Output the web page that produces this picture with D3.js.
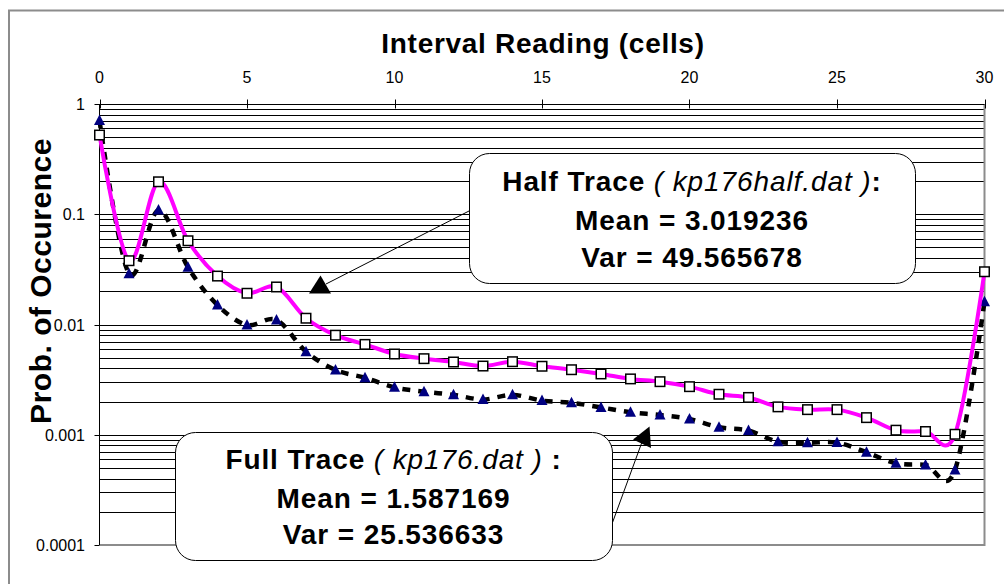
<!DOCTYPE html>
<meta charset="utf-8" />
<script src="https://d3js.org/d3.v7.min.js"></script>
<style>
  body { margin: 0; background: #fff; }
  text { font-family: "Liberation Sans", Arial, sans-serif; }
</style>
<div id="chart"></div>
<script>
  // interval reading (cells)
  const intervals = [0, 1, 2, 3, 4, 5, 6, 7, 8, 9, 10, 11, 12, 13, 14, 15, 16, 17, 18, 19, 20,
    21, 22, 23, 24, 25, 26, 27, 28, 29, 30];
  // half trace (kp176half.dat)
  const halfTrace = [0.523, 0.0379, 0.197, 0.0575, 0.0275, 0.0192, 0.0219, 0.0114, 0.0080, 0.0066,
    0.0054, 0.0049, 0.00457, 0.0042, 0.0046, 0.00418, 0.00389, 0.00356, 0.00321, 0.00303, 0.00273,
    0.00233, 0.00218, 0.00179, 0.00169, 0.00169, 0.00143, 0.00110, 0.00107, 0.00101, 0.0301];
  // full trace (kp176.dat)
  const fullTrace = [0.708, 0.0289, 0.109, 0.033, 0.0150, 0.0099, 0.0110, 0.00567, 0.00387, 0.00329,
    0.00269, 0.00246, 0.0023, 0.00209, 0.0023, 0.00204, 0.00195, 0.00177, 0.0016, 0.00151, 0.00139,
    0.00117, 0.00109, 0.000865, 0.000847, 0.00085, 0.000693, 0.000551, 0.000532, 0.000479, 0.0161];
  const xTicks = [0, 5, 10, 15, 20, 25, 30];
  const yTicks = [1, 0.1, 0.01, 0.001, 0.0001];
  const yTickLabels = ['1', '0.1', '0.01', '0.001', '0.0001'];

  const W = 1004, H = 584;
  const plot = { left: 99.5, right: 984.5, top: 104, bottom: 545 };

  const svg = d3.select('#chart').append('svg')
    .attr('width', W).attr('height', H);

  // outer chart border (cut off at right / bottom)
  svg.append('rect')
    .attr('x', 9).attr('y', 10.5).attr('width', 1100).attr('height', 700)
    .attr('fill', 'none').attr('stroke', '#8c8c8c').attr('stroke-width', 2);

  const x = d3.scaleLinear().domain([0, 30]).range([plot.left, plot.right]);
  const y = d3.scaleLog().domain([0.0001, 1]).range([plot.bottom, plot.top]);

  // horizontal gridlines: every 1..9 x 10^k
  const grid = [];
  yTicks.slice(1).forEach(d => { for (let m = 1; m <= 9; m++) grid.push(d * m); });
  svg.append('g').selectAll('line').data(grid.filter(d => d > 0.0001)).join('line')
    .attr('x1', plot.left).attr('x2', plot.right)
    .attr('y1', d => Math.round(y(d)) + 0.5).attr('y2', d => Math.round(y(d)) + 0.5)
    .attr('stroke', '#000').attr('stroke-width', 1);

  // plot area border right / bottom
  svg.append('path')
    .attr('d', `M${plot.right},${plot.top} V${plot.bottom} H${plot.left}`)
    .attr('fill', 'none').attr('stroke', '#8c8c8c').attr('stroke-width', 2);

  // top x axis
  const xAxis = svg.append('g').attr('transform', `translate(0,${Math.round(plot.top) + 0.5})`);
  xAxis.append('line').attr('x1', plot.left).attr('x2', plot.right).attr('stroke', '#000');
  xAxis.selectAll('.tk').data(xTicks).join('line')
    .attr('x1', d => Math.round(x(d)) + 0.5).attr('x2', d => Math.round(x(d)) + 0.5)
    .attr('y1', -5).attr('y2', 4).attr('stroke', '#000');
  xAxis.selectAll('text').data(xTicks).join('text')
    .attr('x', d => x(d)).attr('y', -22)
    .attr('text-anchor', 'middle').style('font-size', '16px')
    .text(d => d);

  // left y axis
  const yAxis = svg.append('g');
  yAxis.append('line')
    .attr('x1', plot.left).attr('x2', plot.left)
    .attr('y1', plot.top).attr('y2', plot.bottom).attr('stroke', '#000');
  yAxis.selectAll('.tk').data(yTicks).join('line')
    .attr('x1', plot.left - 5).attr('x2', plot.left)
    .attr('y1', d => Math.round(y(d)) + 0.5).attr('y2', d => Math.round(y(d)) + 0.5)
    .attr('stroke', '#000');
  yAxis.selectAll('text').data(yTicks).join('text')
    .attr('x', 85).attr('y', d => y(d) + 6)
    .attr('text-anchor', 'end').style('font-size', '16px')
    .text((d, i) => yTickLabels[i]);

  // axis titles
  svg.append('text')
    .attr('x', 543).attr('y', 53)
    .attr('text-anchor', 'middle')
    .style('font-size', '28px').style('font-weight', 'bold').style('letter-spacing', '0.7px')
    .text('Interval Reading (cells)');
  svg.append('text')
    .attr('transform', 'translate(51,281) rotate(-90)')
    .attr('text-anchor', 'middle')
    .style('font-size', '30px').style('font-weight', 'bold').style('letter-spacing', '0.5px')
    .text('Prob. of Occurence');

  const line = d3.line()
    .x((d, i) => x(intervals[i]))
    .y(d => y(d))
    .curve(d3.curveCardinal.tension(0));

  // full trace: dashed black line + navy triangles
  svg.append('path')
    .attr('d', line(fullTrace))
    .attr('fill', 'none').attr('stroke', '#000').attr('stroke-width', 4.5)
    .attr('stroke-dasharray', '8,8');
  svg.append('g').selectAll('path').data(fullTrace).join('path')
    .attr('transform', (d, i) => `translate(${x(intervals[i])},${y(d)})`)
    .attr('d', 'M0,-6 L5.5,4.5 L-5.5,4.5 Z')
    .attr('fill', '#000080');

  // half trace: magenta line + white squares
  svg.append('path')
    .attr('d', line(halfTrace))
    .attr('fill', 'none').attr('stroke', '#ff00ff').attr('stroke-width', 4);
  svg.append('g').selectAll('rect').data(halfTrace).join('rect')
    .attr('x', (d, i) => x(intervals[i]) - 4.75)
    .attr('y', d => y(d) - 4.75)
    .attr('width', 9.5).attr('height', 9.5)
    .attr('fill', '#fff').attr('stroke', '#000').attr('stroke-width', 1.5);

  // callouts
  const callouts = [
    { box: [469, 153, 446, 130], base: [191, 229.5, 267], name: 'Half Trace', file: ' ( kp176half.dat )', tail: ':',
      mean: 'Mean = 3.019236', vr: 'Var = 49.565678',
      lineFrom: [469, 211], lineTo: [326, 284], head: [[309, 293.5], [331, 293.5], [320.5, 275.5]] },
    { box: [175, 432, 437, 128], base: [469, 508, 544], name: 'Full Trace', file: ' ( kp176.dat )', tail: ' :',
      mean: 'Mean = 1.587169', vr: 'Var = 25.536633',
      lineFrom: [605, 543], lineTo: [642, 442], head: [[633, 439.5], [649.5, 426.5], [651, 448]] }
  ];

  callouts.forEach(c => {
    const g = svg.append('g');
    g.append('line')
      .attr('x1', c.lineFrom[0]).attr('y1', c.lineFrom[1])
      .attr('x2', c.lineTo[0]).attr('y2', c.lineTo[1])
      .attr('stroke', '#000').attr('stroke-width', 1);
    g.append('polygon')
      .attr('points', c.head.map(p => p.join(',')).join(' '))
      .attr('fill', '#000');
    g.append('rect')
      .attr('x', c.box[0] + 0.5).attr('y', c.box[1] + 0.5)
      .attr('width', c.box[2]).attr('height', c.box[3])
      .attr('rx', 20).attr('ry', 20)
      .attr('fill', '#fff').attr('stroke', '#000').attr('stroke-width', 1);
    const cx = c.box[0] + c.box[2] / 2;
    const t1 = g.append('text')
      .attr('x', cx).attr('y', c.base[0]).attr('text-anchor', 'middle')
      .style('font-size', '28px').style('letter-spacing', '0.9px');
    t1.append('tspan').style('font-weight', 'bold').text(c.name);
    t1.append('tspan').style('font-style', 'italic').text(c.file);
    t1.append('tspan').style('font-weight', 'bold').text(c.tail);
    [c.mean, c.vr].forEach((s, i) => {
      g.append('text')
        .attr('x', cx).attr('y', c.base[i + 1]).attr('text-anchor', 'middle')
        .style('font-size', '28px').style('font-weight', 'bold').style('letter-spacing', '0.9px')
        .text(s);
    });
  });
</script>
